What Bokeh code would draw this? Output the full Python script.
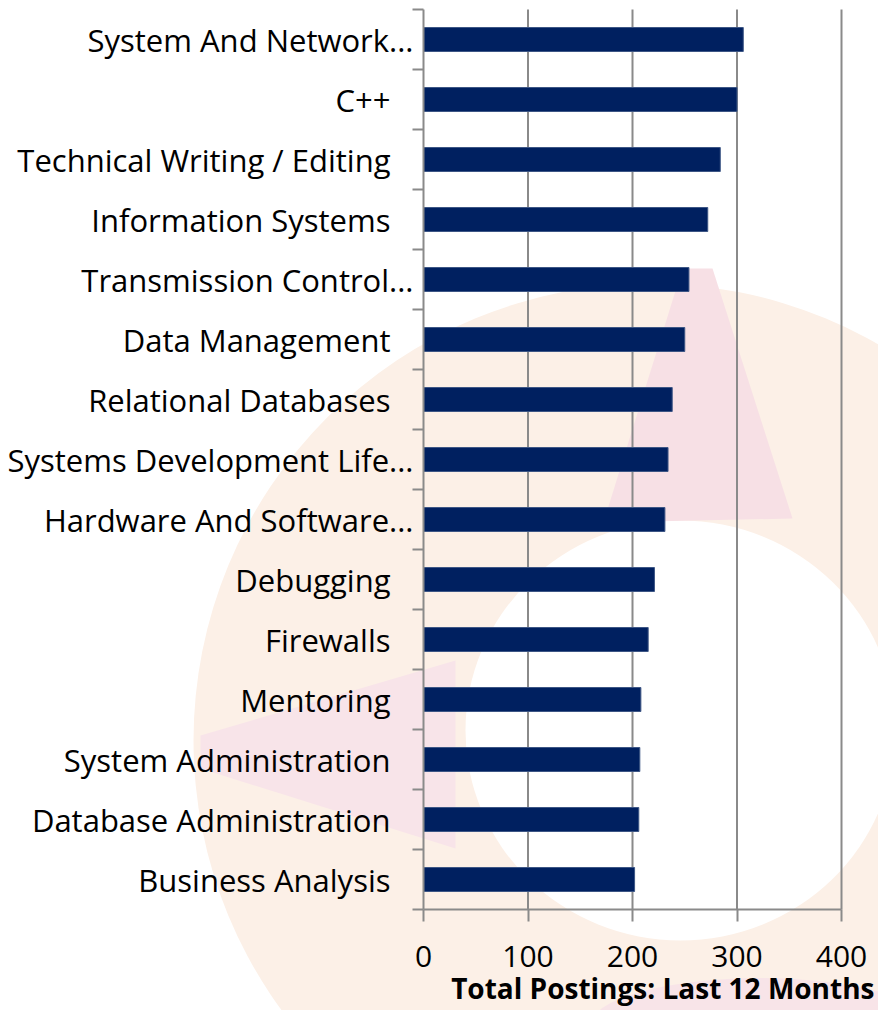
from bokeh.plotting import figure
from bokeh.models import ColumnDataSource, Label, FixedTicker, Range1d
from bokeh.core.properties import value
from bokeh.embed import file_html
from bokeh.resources import INLINE

skills = [
    "System And Network...",
    "C++",
    "Technical Writing / Editing",
    "Information Systems",
    "Transmission Control...",
    "Data Management",
    "Relational Databases",
    "Systems Development Life...",
    "Hardware And Software...",
    "Debugging",
    "Firewalls",
    "Mentoring",
    "System Administration",
    "Database Administration",
    "Business Analysis",
]
postings = [306, 300, 284, 272, 254, 250, 238, 234, 231, 221, 215, 208, 207, 206, 202]
x_ticks = [0, 100, 200, 300, 400]
x_title = "Total Postings: Last 12 Months"

FONT = "Open Sans"
W, H = 878, 1010
n = len(skills)
ypos = [n - 0.5 - i for i in range(n)]
offsets = [-10 if s.endswith("...") else -33 for s in skills]

# pixel layout of the value area inside the canvas
PX_LEFT, PX_RIGHT, PX_TOP, PX_BOTTOM = 423, 841, 9, 909
xs = (PX_RIGHT - PX_LEFT) / (x_ticks[-1] - x_ticks[0])
ys = (PX_BOTTOM - PX_TOP) / n
x_range = Range1d(x_ticks[0] - PX_LEFT / xs, x_ticks[-1] + (W - PX_RIGHT) / xs)
y_range = Range1d(-(H - PX_BOTTOM) / ys, n + PX_TOP / ys)


def dx(px):
    return (px - PX_LEFT) / xs


def dy(py):
    return n - (py - PX_TOP) / ys


src = ColumnDataSource(dict(skill=skills, val=postings, y=ypos, zero=[0] * n, xoff=offsets))

p = figure(width=W, height=H, output_backend="svg", toolbar_location=None,
           x_range=x_range, y_range=y_range,
           min_border=0, min_border_left=0, min_border_right=0,
           min_border_top=0, min_border_bottom=0)
p.outline_line_color = None
p.background_fill_color = "white"
p.border_fill_color = "white"
p.xgrid.visible = False
p.ygrid.visible = False

# ---- faint background watermark (decorative only) ----
p.ellipse(x=dx(650), y=dy(740), width=914, height=914,
          width_units="screen", height_units="screen",
          fill_color="#fcf0e7", line_color=None)
p.ellipse(x=dx(680), y=dy(730), width=430, height=420,
          width_units="screen", height_units="screen",
          fill_color="#ffffff", line_color=None)
p.patch(x=[dx(v) for v in (682, 712, 792, 603)],
        y=[dy(v) for v in (268, 268, 518, 522)],
        fill_color="#f7e0e5", line_color=None)
p.patch(x=[dx(v) for v in (200, 455, 455, 200)],
        y=[dy(v) for v in (735, 660, 848, 768)],
        fill_color="#f8e4e9", line_color=None)
p.ellipse(x=dx(760), y=dy(1025), width=340, height=95,
          width_units="screen", height_units="screen",
          fill_color="#f8e4e8", line_color=None)

GREY = "#8a8a8a"
# vertical gridlines
p.segment(x0=x_ticks[1:], x1=x_ticks[1:], y0=[0] * 4, y1=[n] * 4,
          line_color=GREY, line_width=2)

p.hbar(y="y", right="val", left=0, height=0.4, source=src,
       fill_color="#002060", line_color="#3d5685", line_width=1)

xa = p.xaxis[0]
xa.fixed_location = 0
xa.bounds = (x_ticks[0], x_ticks[-1])
xa.ticker = FixedTicker(ticks=x_ticks)
xa.major_tick_in = 0
xa.major_tick_out = 12
xa.minor_tick_out = 0
xa.minor_tick_in = 0
xa.axis_line_color = GREY
xa.axis_line_width = 2
xa.major_tick_line_color = GREY
xa.major_tick_line_width = 2
xa.major_label_text_font = FONT
xa.major_label_text_font_size = "30px"
xa.major_label_text_color = "#000000"
xa.major_label_standoff = 24

ya = p.yaxis[0]
ya.fixed_location = 0
ya.bounds = (0, n)
ya.ticker = FixedTicker(ticks=list(range(n + 1)))
ya.major_tick_in = 0
ya.major_tick_out = 11
ya.minor_tick_out = 0
ya.minor_tick_in = 0
ya.axis_line_color = GREY
ya.axis_line_width = 2
ya.major_tick_line_color = GREY
ya.major_tick_line_width = 2
ya.major_label_text_color = None
ya.major_label_standoff = 0

p.text(x="zero", y="y", text="skill", x_offset="xoff", source=src,
       text_align="right", text_baseline="middle",
       text_font=value(FONT), text_font_size="31px", text_color="#000000")

p.add_layout(Label(x=W - 4, y=23, x_units="screen", y_units="screen", text=x_title,
                   text_align="right", text_baseline="middle", text_font=FONT,
                   text_font_size="28px", text_font_style="bold", text_color="#000000"))

open("out.html", "w").write(file_html(p, INLINE))
